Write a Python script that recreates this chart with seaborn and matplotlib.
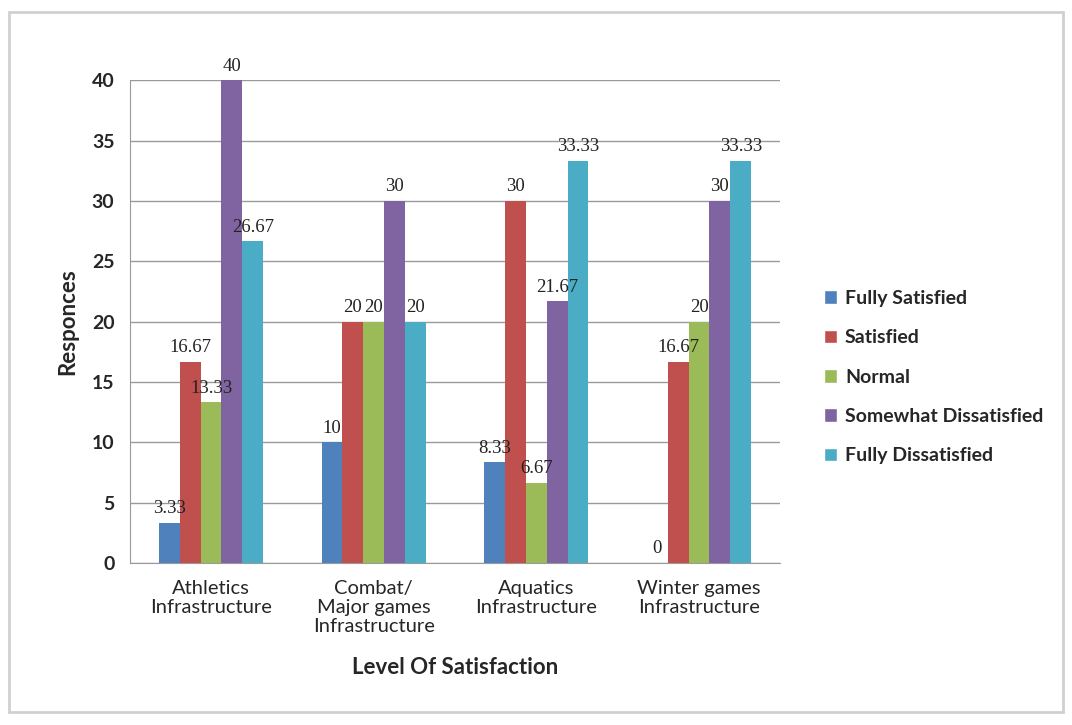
import numpy as np
import pandas as pd
import seaborn as sns
import matplotlib.pyplot as plt
from matplotlib.patches import Rectangle, Patch

categories = ["Athletics\nInfrastructure", "Combat/\nMajor games\nInfrastructure",
              "Aquatics\nInfrastructure", "Winter games\nInfrastructure"]
levels = ["Fully Satisfied", "Satisfied", "Normal", "Somewhat Dissatisfied", "Fully Dissatisfied"]
fully_satisfied = [3.33, 10, 8.33, 0]
satisfied = [16.67, 20, 30, 16.67]
normal = [13.33, 20, 6.67, 20]
somewhat_dissatisfied = [40, 30, 21.67, 30]
fully_dissatisfied = [26.67, 20, 33.33, 33.33]
colors = ["#4F81BD", "#C0504D", "#9BBB59", "#8064A2", "#4BACC6"]

series = [fully_satisfied, satisfied, normal, somewhat_dissatisfied, fully_dissatisfied]
rows = []
for lev, vals in zip(levels, series):
    for cat, v in zip(categories, vals):
        rows.append({"category": cat, "level": lev, "value": v})
df = pd.DataFrame(rows)

sns.set_style("white")
plt.rcParams['font.family'] = ['Lato', 'DejaVu Sans']

fig = plt.figure(figsize=(10.72, 7.25), dpi=100)
ax = fig.add_axes([0.121, 0.2234, 0.607, 0.666])

sns.barplot(data=df, x="category", y="value", hue="level", hue_order=levels,
            palette=colors, width=0.64, saturation=1, ax=ax, legend=False,
            linewidth=0, zorder=3)

# value labels above each bar
for cont in ax.containers:
    labels = ["%g" % b.get_height() for b in cont]
    ax.bar_label(cont, labels=labels, padding=4, fontsize=13.5,
                 family="Liberation Serif", color="#222222")

ax.set_ylim(0, 40)
ax.set_xlim(-0.5, 3.5)
ax.set_yticks(range(0, 41, 5))
ax.yaxis.grid(True, color="#9a9a9a", linewidth=1, zorder=0)
ax.set_axisbelow(True)
for s in ["top", "right"]:
    ax.spines[s].set_visible(False)
ax.spines["left"].set_color("#9a9a9a")
ax.spines["bottom"].set_color("#9a9a9a")
ax.tick_params(axis="y", labelsize=14, length=5, color="#9a9a9a", pad=6)
ax.tick_params(axis="x", labelsize=14.5, length=0, pad=12)
for t in ax.get_yticklabels():
    t.set_fontweight("bold")
for t in ax.get_xticklabels():
    t.set_linespacing(1.15)
ax.set_xlabel("Level Of Satisfaction", fontsize=16, fontweight="bold", labelpad=16)
ax.set_ylabel("Responces", fontsize=16, fontweight="bold", labelpad=10)

handles = [Patch(facecolor=c, label=l) for c, l in zip(colors, levels)]
leg = fig.legend(handles=handles, loc="center left", bbox_to_anchor=(0.752, 0.48),
                 frameon=False, fontsize=14, labelspacing=1.15, handlelength=0.7,
                 handleheight=0.7, handletextpad=0.4)
for t in leg.get_texts():
    t.set_fontweight("bold")

fig.patches.append(Rectangle((0.008, 0.018), 0.984, 0.965, transform=fig.transFigure,
                             fill=False, edgecolor="#d0d0d0", linewidth=2))

fig.savefig("out.png", dpi=100)
